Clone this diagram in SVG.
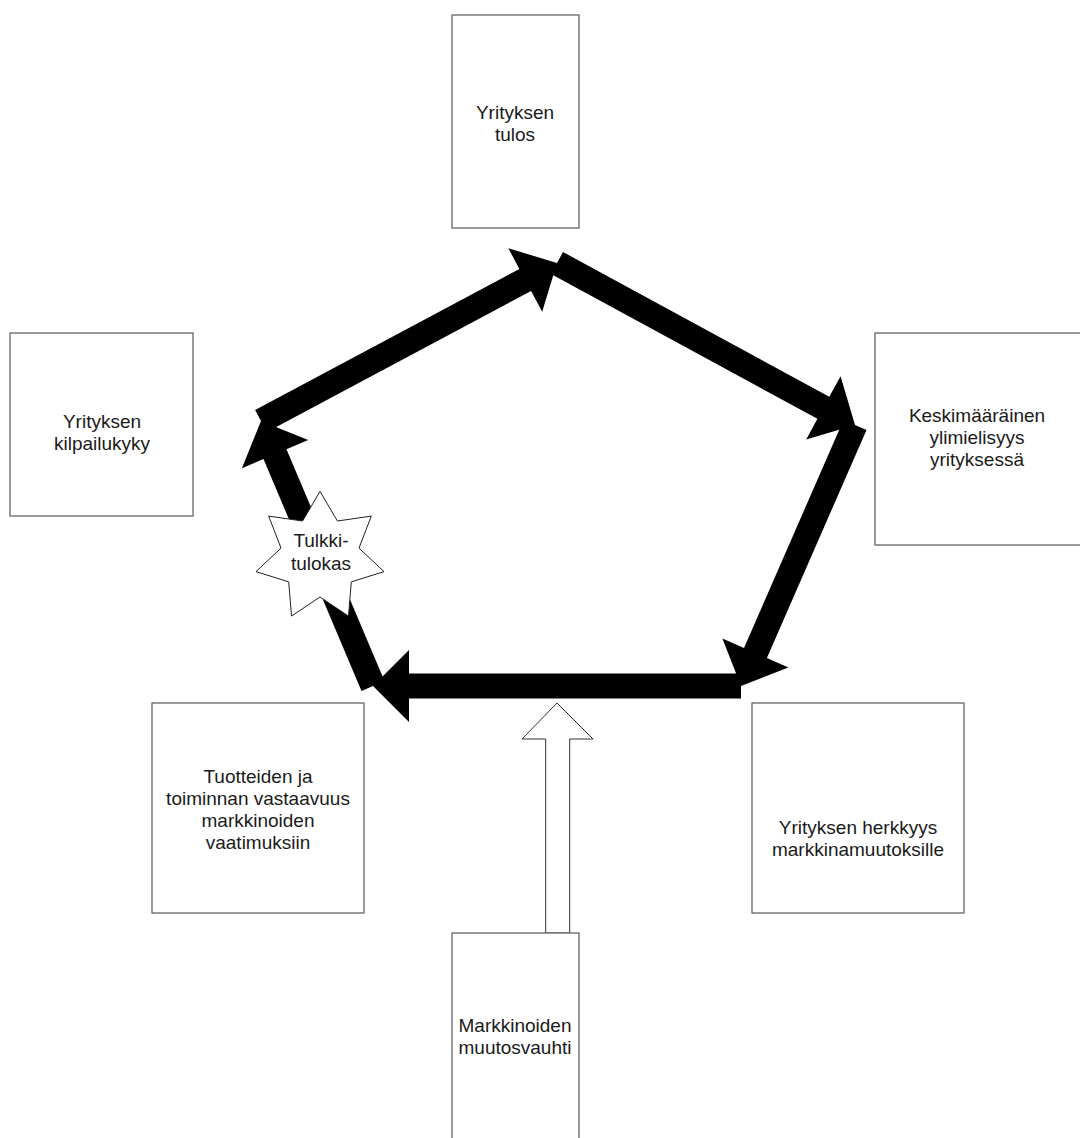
<svg xmlns="http://www.w3.org/2000/svg" width="1080" height="1138" viewBox="0 0 1080 1138">
<style>
.box{fill:#fff;stroke:#666;stroke-width:1.3}
.t{font-family:"Liberation Sans",Arial,sans-serif;font-size:19px;fill:#1a1a1a;text-anchor:middle}
.arr{fill:#000;stroke:none}
.hollow{fill:#fff;stroke:#333;stroke-width:1}
</style>
<rect width="1080" height="1138" fill="#fff"/>
<g id="n-tulos"><rect class="box" x="452" y="15" width="127" height="213"/><text class="t" x="515" y="119">Yrityksen</text><text class="t" x="515" y="141">tulos</text></g>
<g id="n-kilpailukyky"><rect class="box" x="10" y="333" width="183" height="183"/><text class="t" x="102" y="428">Yrityksen</text><text class="t" x="102" y="450">kilpailukyky</text></g>
<g id="n-ylimielisyys"><rect class="box" x="875" y="333" width="212" height="212"/><text class="t" x="977" y="422">Keskimääräinen</text><text class="t" x="977" y="444">ylimielisyys</text><text class="t" x="977" y="466">yrityksessä</text></g>
<g id="n-vastaavuus"><rect class="box" x="152" y="703" width="212" height="210"/><text class="t" x="258" y="783">Tuotteiden ja</text><text class="t" x="258" y="805">toiminnan vastaavuus</text><text class="t" x="258" y="827">markkinoiden</text><text class="t" x="258" y="849">vaatimuksiin</text></g>
<g id="n-herkkyys"><rect class="box" x="752" y="703" width="212" height="210"/><text class="t" x="858" y="834">Yrityksen herkkyys</text><text class="t" x="858" y="856">markkinamuutoksille</text></g>
<g id="connectors">
<polygon class="hollow" points="545.7,933 545.7,739 522,739 557,703 593,739 569.7,739 569.7,933"/>
<polygon class="arr" points="266.9,432 531.1,291 542.2,311.7 557,263 508.3,248.2 519.4,268.9 255.1,410"/>
<polygon class="arr" points="551,274 817.4,418.8 806.2,439.4 855,425 840.6,376.2 829.3,396.8 563,252"/>
<polygon class="arr" points="843.5,420 744,648 722.4,638.6 741,686 788.4,667.4 766.9,658 866.5,430"/>
<polygon class="arr" points="741,673.5 409,673.5 409,650 373,686 409,722 409,698.5 741,698.5"/>
<polygon class="arr" points="384.5,681.1 286.5,449.3 308.2,440.1 261,421 241.9,468.2 263.5,459 361.5,690.9"/>
</g>
<g id="n-muutosvauhti"><rect class="box" x="452" y="933" width="127" height="212"/><text class="t" x="515" y="1032">Markkinoiden</text><text class="t" x="515" y="1054">muutosvauhti</text></g>
<g id="n-tulkkitulokas"><polygon fill="#fff" stroke="#222" stroke-width="1" points="320,491.4 337.4,521 371.3,516.1 359,548.1 384,571.6 351.3,581.9 348.5,616.1 320,597 291.5,616.1 288.7,581.9 256,571.6 281,548.1 268.7,516.1 302.6,521"/><text class="t" x="321" y="547">Tulkki-</text><text class="t" x="321" y="570">tulokas</text></g>
</svg>
